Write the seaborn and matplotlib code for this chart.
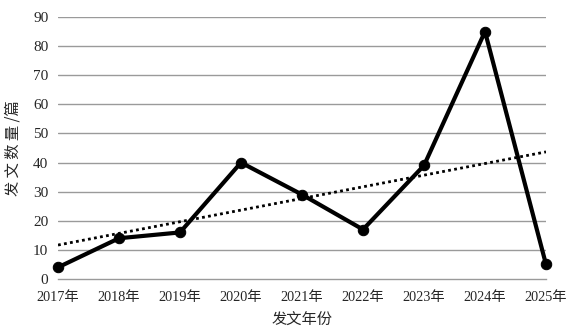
import numpy as np
import pandas as pd
import matplotlib
import matplotlib.pyplot as plt
import seaborn as sns

matplotlib.use('Agg')

years = ['2017年', '2018年', '2019年', '2020年', '2021年', '2022年', '2023年', '2024年', '2025年']
counts = [4, 14, 16, 40, 29, 17, 39, 85, 5]
y_ticks = [0, 10, 20, 30, 40, 50, 60, 70, 80, 90]

df = pd.DataFrame({'idx': np.arange(len(years)), 'count': counts})

sns.set_style('white')
plt.rcParams['font.family'] = ['Liberation Serif', 'Noto Sans CJK SC']
plt.rcParams['axes.unicode_minus'] = False

fig = plt.figure(figsize=(5.67, 3.33), dpi=100)
ax = fig.add_axes([58 / 567, 1 - 279 / 333, (546 - 58) / 567, (279 - 17) / 333])

# horizontal grid lines
for v in y_ticks[1:]:
    ax.axhline(v, color='#9a9a9a', linewidth=1.0, zorder=0)

# linear trend line (fitted by seaborn)
sns.regplot(data=df, x='idx', y='count', ax=ax, scatter=False, ci=None,
            line_kws={'color': 'black', 'linestyle': (0, (1, 1.2)), 'linewidth': 2.0})

sns.lineplot(data=df, x='idx', y='count', ax=ax, color='black', linewidth=3.0,
             marker='o', markersize=7.5, markeredgecolor='black', clip_on=False, zorder=5)

ax.set_xlim(0, len(years) - 1)
ax.set_ylim(0, 90)
ax.set_xticks(df['idx'])
ax.set_xticklabels(years, fontsize=10.3)
ax.set_yticks(y_ticks)
ax.set_yticklabels([str(v) for v in y_ticks], fontsize=11)

for s in ['top', 'right', 'left']:
    ax.spines[s].set_visible(False)
ax.spines['bottom'].set_color('#9a9a9a')
ax.spines['bottom'].set_linewidth(1.0)
ax.tick_params(axis='x', length=4, color='#9a9a9a', pad=5)
ax.tick_params(axis='y', length=0, pad=7)

ax.set_xlabel('发文年份', fontsize=11, family=['Noto Sans CJK SC'], labelpad=5)
ax.set_ylabel('发 文 数 量 /篇', fontsize=11, family=['Noto Sans CJK SC'], labelpad=8)

plt.savefig('out.png', dpi=100)
plt.close()
